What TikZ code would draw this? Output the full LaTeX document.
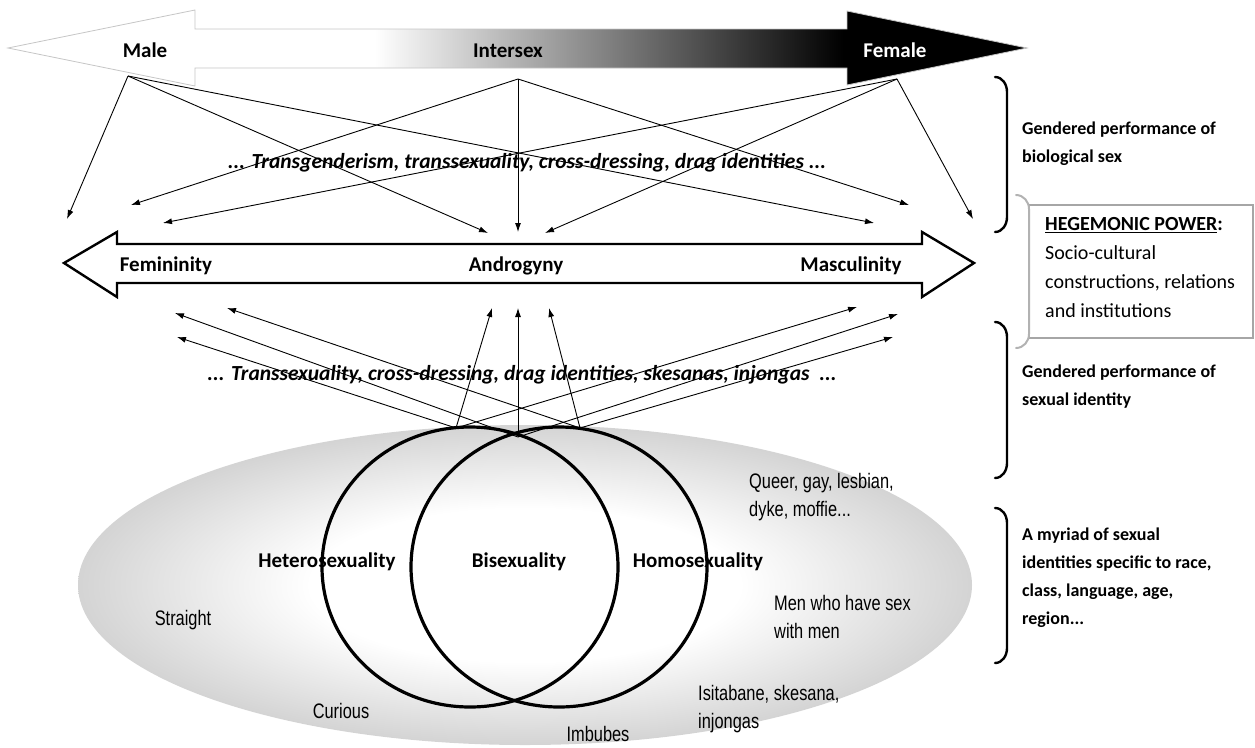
\documentclass[tikz,border=0pt]{standalone}
\usepackage{fontspec}
\setmainfont{Carlito}
\newfontfamily\narrowfont{Liberation Sans}[FakeStretch=0.78]
\usepackage{tikz}
\usetikzlibrary{arrows.meta}
\pgfdeclarehorizontalshading{SexBar}{100bp}{color(0bp)=(white); color(43bp)=(white);
    color(66bp)=(black); color(100bp)=(black)}
\pgfdeclareradialshading{Halo}{\pgfpoint{0bp}{0bp}}{color(0bp)=(white); color(12bp)=(white);
    color(25bp)=(gray!34); color(50bp)=(gray!34)}
\tikzstyle{Edge}=[draw=black,line width=0.9pt,-{Latex[length=9pt,width=6pt]}]
\tikzstyle{Pole}=[font=\fontsize{21}{24}\selectfont\bfseries,inner sep=0pt,anchor=base]
\tikzstyle{Role}=[font=\fontsize{21.5}{24}\selectfont\bfseries\itshape,inner sep=0pt]
\tikzstyle{Kind}=[font=\narrowfont\fontsize{21}{28}\selectfont,inner sep=0pt,align=left]
\tikzstyle{Brace}=[line width=2.4pt,line cap=round]
\tikzstyle{Note}=[font=\fontsize{18}{28}\selectfont\bfseries,inner sep=0pt,align=left,anchor=west]

\begin{document}
\begin{tikzpicture}[x=1pt,y=-1pt]
    \useasboundingbox (0,0) rectangle (1255,747);
    % sex axis
    \shade[shading=SexBar,draw=gray!45,line width=0.8pt](8,48)--(195,10)--(195,29)--(847,29)
        --(847,11)--(1027,48)--(847,85)--(847,68)--(195,68)--(195,86)--cycle;
    \node[Pole](male)at(145,57){Male};
    \node[Pole](inter)at(508,57){Intersex};
    \node[Pole,text=white](female)at(895,57){Female};
    % gender axis
    \draw[line width=2.4pt,fill=white,line join=miter](64,263)--(117,232)--(117,244)--(922,244)
        --(922,232)--(974,263)--(922,297)--(922,283)--(117,283)--(117,297)--cycle;
    \node[Pole](fem)at(166,271){Femininity};
    \node[Pole](andro)at(516,271){Androgyny};
    \node[Pole](masc)at(851,271){Masculinity};
    % sexual identities
    \shade[shading=Halo](525,585)ellipse[x radius=447,y radius=160];
    \draw[line width=3.2pt](470,567)ellipse[x radius=148,y radius=140];
    \draw[line width=3.2pt](559,567)ellipse[x radius=148,y radius=140];
    % arrows from sex
    \coordinate(mo)at(128,76);
    \coordinate(io)at(518,79);
    \coordinate(fo)at(897,79);
    \coordinate(t1)at(67,219);
    \coordinate(t2)at(131,205);
    \coordinate(t3)at(163,223);
    \coordinate(t4)at(488,233);
    \coordinate(t5)at(518,232);
    \coordinate(t6)at(545,233);
    \coordinate(t7)at(874,223);
    \coordinate(t8)at(909,205);
    \coordinate(t9)at(973,219);
    \draw[Edge](mo)--(t1);
    \draw[Edge](mo)--(t4);
    \draw[Edge](mo)--(t7);
    \draw[Edge](io)--(t2);
    \draw[Edge](io)--(t5);
    \draw[Edge](io)--(t8);
    \draw[Edge](fo)--(t3);
    \draw[Edge](fo)--(t6);
    \draw[Edge](fo)--(t9);
    % arrows from sexual identity
    \coordinate(lo)at(456,428);
    \coordinate(co)at(518,437);
    \coordinate(ro)at(580,428);
    \coordinate(b1)at(177,337);
    \coordinate(b2)at(175,313);
    \coordinate(b3)at(227,308);
    \coordinate(b4)at(492,308);
    \coordinate(b5)at(518,308);
    \coordinate(b6)at(549,308);
    \coordinate(b7)at(857,307);
    \coordinate(b8)at(898,314);
    \coordinate(b9)at(893,337);
    \draw[Edge](lo)--(b1);
    \draw[Edge](lo)--(b4);
    \draw[Edge](lo)--(b7);
    \draw[Edge](co)--(b2);
    \draw[Edge](co)--(b5);
    \draw[Edge](co)--(b8);
    \draw[Edge](ro)--(b3);
    \draw[Edge](ro)--(b6);
    \draw[Edge](ro)--(b9);
    \node[Role](perf1)at(527,163){... Transgenderism, transsexuality, cross-dressing, drag identities ...};
    \node[Role](perf2)at(522,375){... Transsexuality, cross-dressing, drag identities, skesanas, injongas\ \ ...};
    \node[Pole](hetero)at(327,567){Heterosexuality};
    \node[Pole](bi)at(519,567){Bisexuality};
    \node[Pole](homo)at(698,567){Homosexuality};
    \node[Kind](straight)at(183,620){Straight};
    \node[Kind](curious)at(341,711){Curious};
    \node[Kind](imbubes)at(598,734){Imbubes};
    \node[Kind,anchor=west](queer)at(749,497){Queer, gay, lesbian,\\dyke, moffie...};
    \node[Kind,anchor=west](msm)at(774,617){Men who have sex\\with men};
    \node[Kind,anchor=west](isit)at(698,709){Isitabane, skesana,\\injongas};
    % right margin
    \draw[Brace](995,77)to[out=0,in=90](1007,92)--(1007,217)to[out=-90,in=0](995,232);
    \draw[Brace](995,322)to[out=0,in=90](1007,337)--(1007,463)to[out=-90,in=0](995,478);
    \draw[Brace](995,508)to[out=0,in=90](1007,523)--(1007,648)to[out=-90,in=0](995,663);
    \draw[gray!70,line width=1.2pt](1029,205)--(1253,205)--(1253,338)--(1029,338);
    \draw[gray!60,line width=2pt,line cap=round](1016,195)to[out=0,in=90](1029,209)--(1029,334)
        to[out=-90,in=0](1016,348);
    \node[Note](sexnote)at(1022,144){Gendered performance of\\biological sex};
    \node[Note](idnote)at(1022,387){Gendered performance of\\sexual identity};
    \node[Note](myriad)at(1022,578){A myriad of sexual\\identities specific to race,\\class, language, age,\\region...};
    \node[font=\fontsize{20}{29}\selectfont,inner sep=0pt,align=left,anchor=west](power)at(1045,268)
        {\textbf{\underline{HEGEMONIC POWER}:}\\Socio-cultural\\constructions, relations\\and institutions};
\end{tikzpicture}
\end{document}
